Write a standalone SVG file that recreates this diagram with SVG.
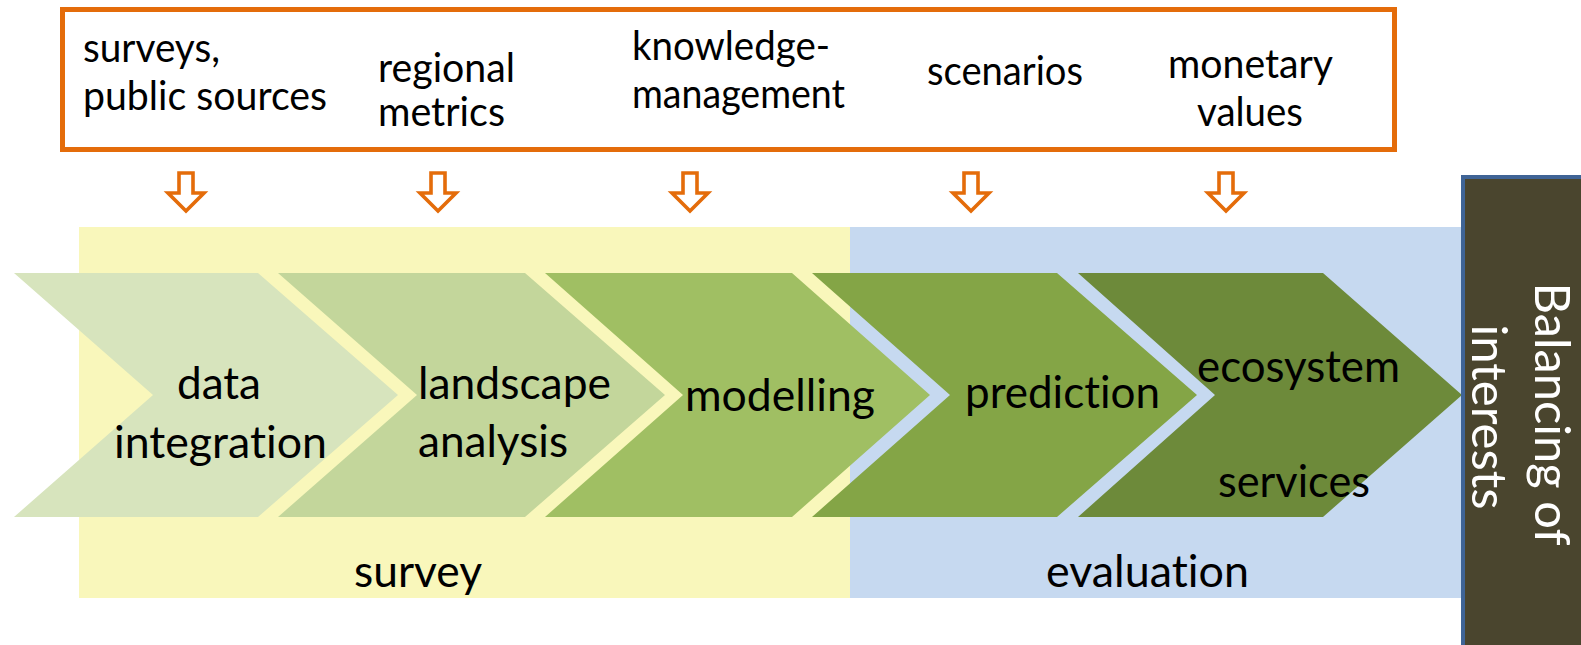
<svg xmlns="http://www.w3.org/2000/svg" width="1581" height="645" viewBox="0 0 1581 645">
  <style>
    .t { font-family: Lato, "Open Sans", "Liberation Sans", sans-serif; fill: #000; font-variant-ligatures: none; }
    .top { font-size: 40px; }
    .lab { font-size: 45px; }
    .vert { font-size: 49px; fill: #FFFFFF; }
    .arr { fill: #FFFFFF; stroke: #E46C0A; stroke-width: 3.6; stroke-linejoin: miter; }
  </style>
  <defs>
    <path id="downArrow" d="M-7,173 H7 V193 H18 L0,211 L-18,193 H-7 Z"/>
  </defs>
  <rect width="1581" height="645" fill="#FFFFFF"/>

  <g id="survey-band">
    <rect x="79" y="227" width="771" height="371" fill="#F9F7BB"/>
    <text class="t lab" x="354" y="587" textLength="128" lengthAdjust="spacingAndGlyphs">survey</text>
  </g>
  <g id="evaluation-band">
    <rect x="850" y="227" width="611" height="371" fill="#C6D9F0"/>
    <text class="t lab" x="1046" y="587" textLength="203" lengthAdjust="spacingAndGlyphs">evaluation</text>
  </g>

  <g id="inputs">
    <rect x="62.5" y="9.5" width="1332" height="140" fill="#FFFFFF" stroke="#E46C0A" stroke-width="5"/>
    <text class="t top" x="83" y="62" textLength="137" lengthAdjust="spacingAndGlyphs">surveys,</text>
    <text class="t top" x="83" y="110" textLength="244" lengthAdjust="spacingAndGlyphs">public sources</text>
    <text class="t top" x="378" y="82" textLength="137" lengthAdjust="spacingAndGlyphs">regional</text>
    <text class="t top" x="378" y="126" textLength="127" lengthAdjust="spacingAndGlyphs">metrics</text>
    <text class="t top" x="632" y="60" textLength="198" lengthAdjust="spacingAndGlyphs">knowledge-</text>
    <text class="t top" x="632" y="108" textLength="213" lengthAdjust="spacingAndGlyphs">management</text>
    <text class="t top" x="927" y="85" textLength="156" lengthAdjust="spacingAndGlyphs">scenarios</text>
    <text class="t top" x="1168" y="78" textLength="165" lengthAdjust="spacingAndGlyphs">monetary</text>
    <text class="t top" x="1197" y="126" textLength="106" lengthAdjust="spacingAndGlyphs">values</text>
  </g>

  <g id="connectors">
    <use href="#downArrow" class="arr" transform="translate(186,0)"/>
    <use href="#downArrow" class="arr" transform="translate(438,0)"/>
    <use href="#downArrow" class="arr" transform="translate(690,0)"/>
    <use href="#downArrow" class="arr" transform="translate(971,0)"/>
    <use href="#downArrow" class="arr" transform="translate(1226,0)"/>
  </g>

  <g id="data-integration">
    <polygon points="14,273 258,273 398,395 258,517 14,517 153,395" fill="#D7E4BD"/>
    <text class="t lab" x="177" y="399" textLength="84" lengthAdjust="spacingAndGlyphs">data</text>
    <text class="t lab" x="114" y="458" textLength="213" lengthAdjust="spacingAndGlyphs">integration</text>
  </g>
  <g id="landscape-analysis">
    <polygon points="278,273 525,273 665,395 525,517 278,517 417,395" fill="#C3D69B"/>
    <text class="t lab" x="418" y="399" textLength="193" lengthAdjust="spacingAndGlyphs">landscape</text>
    <text class="t lab" x="418" y="457" textLength="150" lengthAdjust="spacingAndGlyphs">analysis</text>
  </g>
  <g id="modelling">
    <polygon points="545,273 792,273 930,395 792,517 545,517 683,395" fill="#A0BF63"/>
    <text class="t lab" x="685" y="411" textLength="190" lengthAdjust="spacingAndGlyphs">modelling</text>
  </g>
  <g id="prediction">
    <polygon points="812,273 1057,273 1197,395 1057,517 812,517 950,395" fill="#84A546"/>
    <text class="t lab" x="965" y="408" textLength="195" lengthAdjust="spacingAndGlyphs">prediction</text>
  </g>
  <g id="ecosystem-services">
    <polygon points="1078,273 1323,273 1462,395 1323,517 1078,517 1215,395" fill="#6D8A3A"/>
    <text class="t lab" x="1197" y="382" textLength="203" lengthAdjust="spacingAndGlyphs">ecosystem</text>
    <text class="t lab" x="1218" y="497" textLength="152" lengthAdjust="spacingAndGlyphs">services</text>
  </g>

  <g id="balancing-of-interests">
    <rect x="1463" y="177" width="130" height="480" fill="#4A452E" stroke="#3F6496" stroke-width="4"/>
    <text class="t vert" text-anchor="middle" transform="translate(1535,414) rotate(90)" textLength="263" lengthAdjust="spacingAndGlyphs">Balancing of</text>
    <text class="t vert" text-anchor="middle" transform="translate(1472,417) rotate(90)" textLength="185" lengthAdjust="spacingAndGlyphs">interests</text>
  </g>
</svg>
